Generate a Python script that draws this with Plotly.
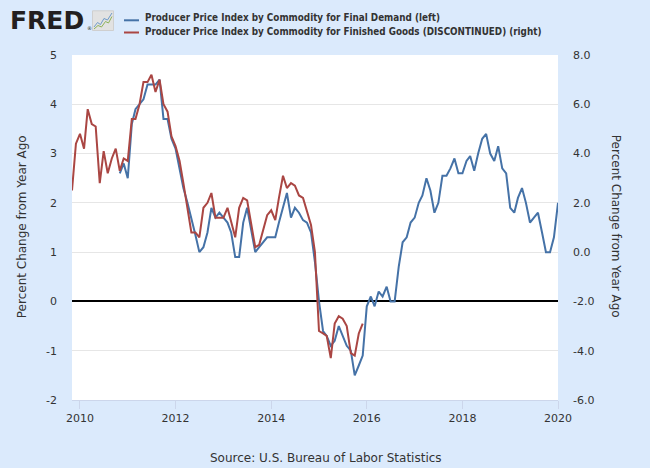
import plotly.graph_objects as go
import pandas as pd

# monthly dates shown on the chart (Nov 2009 .. Jan 2020)
months = pd.date_range("2009-11-01", "2020-01-01", freq="MS")

# PPI Final Demand, percent change from year ago (left axis), Nov 2010 .. Jan 2020
final_demand = [
    2.6, 2.8, 2.5, 3.6, 3.9, 4.0, 4.1, 4.4, 4.4, 4.4, 4.5, 3.7,
    3.7, 3.3, 3.1, 2.7, 2.3, 2.0, 1.7, 1.35, 1.0, 1.1, 1.4, 1.9,
    1.7, 1.8, 1.7, 1.6, 1.4, 0.9, 0.9, 1.6, 1.9, 1.45, 1.0, 1.1,
    1.2, 1.3, 1.3, 1.3, 1.6, 1.9, 2.2, 1.7, 1.9, 1.8, 1.65, 1.6,
    1.4, 0.8, 0.0, -0.6, -0.7, -0.9, -0.8, -0.5, -0.7, -0.9, -1.0, -1.5,
    -1.3, -1.1, -0.1, 0.1, -0.1, 0.2, 0.1, 0.3, 0.0, 0.0, 0.7, 1.2,
    1.3, 1.6, 1.7, 2.0, 2.15, 2.5, 2.25, 1.8, 2.0, 2.55, 2.55, 2.7,
    2.9, 2.6, 2.6, 2.85, 2.95, 2.65, 3.0, 3.3, 3.4, 3.0, 2.85, 3.15,
    2.7, 2.6, 1.9, 1.8, 2.1, 2.3, 2.0, 1.6, 1.7, 1.8, 1.4, 1.0,
    1.0, 1.3, 2.0,
]

# PPI Finished Goods (discontinued), percent change from year ago (right axis), Nov 2009 .. Dec 2015
finished_goods = [
    2.5, 4.4, 4.8, 4.2, 5.8, 5.2, 5.1, 2.8, 4.1, 3.2, 3.8, 4.2,
    3.3, 3.8, 3.7, 5.4, 5.4, 6.0, 6.9, 6.9, 7.2, 6.5, 7.0, 6.0,
    5.7, 4.7, 4.3, 3.7, 2.8, 1.8, 0.8, 0.8, 0.6, 1.8, 2.0, 2.4,
    1.4, 1.4, 1.4, 1.8, 1.2, 0.6, 1.8, 2.2, 2.1, 1.2, 0.2, 0.3,
    0.9, 1.5, 1.7, 1.3, 2.2, 3.1, 2.6, 2.8, 2.7, 2.3, 2.2, 1.7,
    1.1, 0.0, -3.2, -3.3, -3.4, -4.3, -2.9, -2.6, -2.7, -3.0, -4.1, -4.2,
    -3.3, -2.9,
]

left_ticks = [-2, -1, 0, 1, 2, 3, 4, 5]
right_ticks = [-6, -4, -2, 0, 2, 4, 6, 8]
year_ticks = ["2010", "2012", "2014", "2016", "2018", "2020"]

BLUE = "#4572a7"
RED = "#aa4643"
BG = "#dbeafc"
TXT = "#333333"

W, H = 650, 468
ML, MR, MT, MB = 72, 92, 55, 68


def px(x):
    return (x - ML) / (W - ML - MR)


def py(y):
    return (H - MB - y) / (H - MT - MB)


fig = go.Figure()
fig.add_trace(go.Scatter(
    x=months[12:12 + len(final_demand)], y=final_demand, mode="lines",
    line=dict(color=BLUE, width=2), name="Final Demand",
))
fig.add_trace(go.Scatter(
    x=months[:len(finished_goods)], y=finished_goods, mode="lines", yaxis="y2",
    line=dict(color=RED, width=2), name="Finished Goods",
))

tickfont = dict(family="DejaVu Sans", size=11, color=TXT)

fig.update_layout(
    width=W, height=H,
    margin=dict(l=ML, r=MR, t=MT, b=MB, pad=0),
    paper_bgcolor=BG, plot_bgcolor="white",
    showlegend=False,
    xaxis=dict(
        type="date", range=[months[0], months[-1]],
        tickvals=[pd.Timestamp(y + "-01-01") for y in year_ticks], ticktext=year_ticks,
        showgrid=False, zeroline=False,
        showline=True, linecolor="#ccd6eb", linewidth=1,
        ticks="outside", ticklen=8, tickcolor="#ccd6eb", tickwidth=1,
        tickfont=tickfont,
    ),
    yaxis=dict(
        range=[-2, 5], tickvals=left_ticks, ticktext=[str(v) for v in left_ticks],
        showgrid=True, gridcolor="#e6e6e6", gridwidth=1,
        zeroline=True, zerolinecolor="black", zerolinewidth=2,
        tickfont=tickfont, ticklabelstandoff=14,
    ),
    yaxis2=dict(
        range=[-6, 8], overlaying="y", side="right",
        tickvals=right_ticks, ticktext=["%.1f" % v for v in right_ticks],
        showgrid=False, zeroline=False,
        tickfont=tickfont, ticklabelstandoff=14,
    ),
)

title_font = dict(family="DejaVu Sans", size=12, color=TXT)
legend_font = dict(family="DejaVu Sans Condensed, Liberation Sans Narrow, sans-serif",
                   size=9.8, color=TXT, weight="bold")

annotations = [
    dict(text="Percent Change from Year Ago", x=px(21.7), y=py(226.5), textangle=-90,
         font=title_font),
    dict(text="Percent Change from Year Ago", x=px(616.7), y=py(226.5), textangle=90,
         font=title_font),
    dict(text="Source: U.S. Bureau of Labor Statistics", x=px(326), y=py(458),
         font=title_font),
    dict(text="Producer Price Index by Commodity for Final Demand (left)",
         x=px(143), y=py(17.8), xanchor="left", font=legend_font),
    dict(text="Producer Price Index by Commodity for Finished Goods (DISCONTINUED) (right)",
         x=px(143), y=py(31.3), xanchor="left", font=legend_font),
    dict(text="FRED", x=px(8), y=py(20.5), xanchor="left",
         font=dict(family="DejaVu Sans", size=25, color="#231f20", weight="bold")),
    dict(text="®", x=px(85), y=py(28), xanchor="left",
         font=dict(family="DejaVu Sans", size=5, color="#231f20")),
]
for a in annotations:
    a.setdefault("xanchor", "center")
    a.update(xref="paper", yref="paper", showarrow=False, yanchor="middle")
fig.update_layout(annotations=annotations)


def path(points):
    return "M " + " L ".join("%.4f,%.4f" % (px(x), py(y)) for x, y in points)


shapes = [
    # legend swatches
    dict(type="line", x0=px(124), x1=px(139), y0=py(20.3), y1=py(20.3),
         line=dict(color=BLUE, width=2)),
    dict(type="line", x0=px(124), x1=px(139), y0=py(32.5), y1=py(32.5),
         line=dict(color=RED, width=2)),
    # little FRED chart icon
    dict(type="rect", x0=px(92.5), x1=px(113.5), y0=py(30.5), y1=py(10.8),
         fillcolor="#e2e2e2", line=dict(color="#cfcfcf", width=1)),
    dict(type="path", path=path([(94, 27), (97.5, 22.5), (100.5, 24.5), (104, 18.5), (107.5, 20), (112, 13)]),
         line=dict(color="#6f9bc9", width=1)),
    dict(type="path", path=path([(94, 29), (98, 25.5), (101.5, 27), (105.5, 21.5), (108.5, 23), (112, 16.5)]),
         line=dict(color="#8db25a", width=1)),
]
for s in shapes:
    s.update(xref="paper", yref="paper")
fig.update_layout(shapes=shapes)

# the page's default body margin would push the figure 8px off
fig.write_html("out.html", config={"displayModeBar": False},
               post_script="document.body.style.margin='0';")
